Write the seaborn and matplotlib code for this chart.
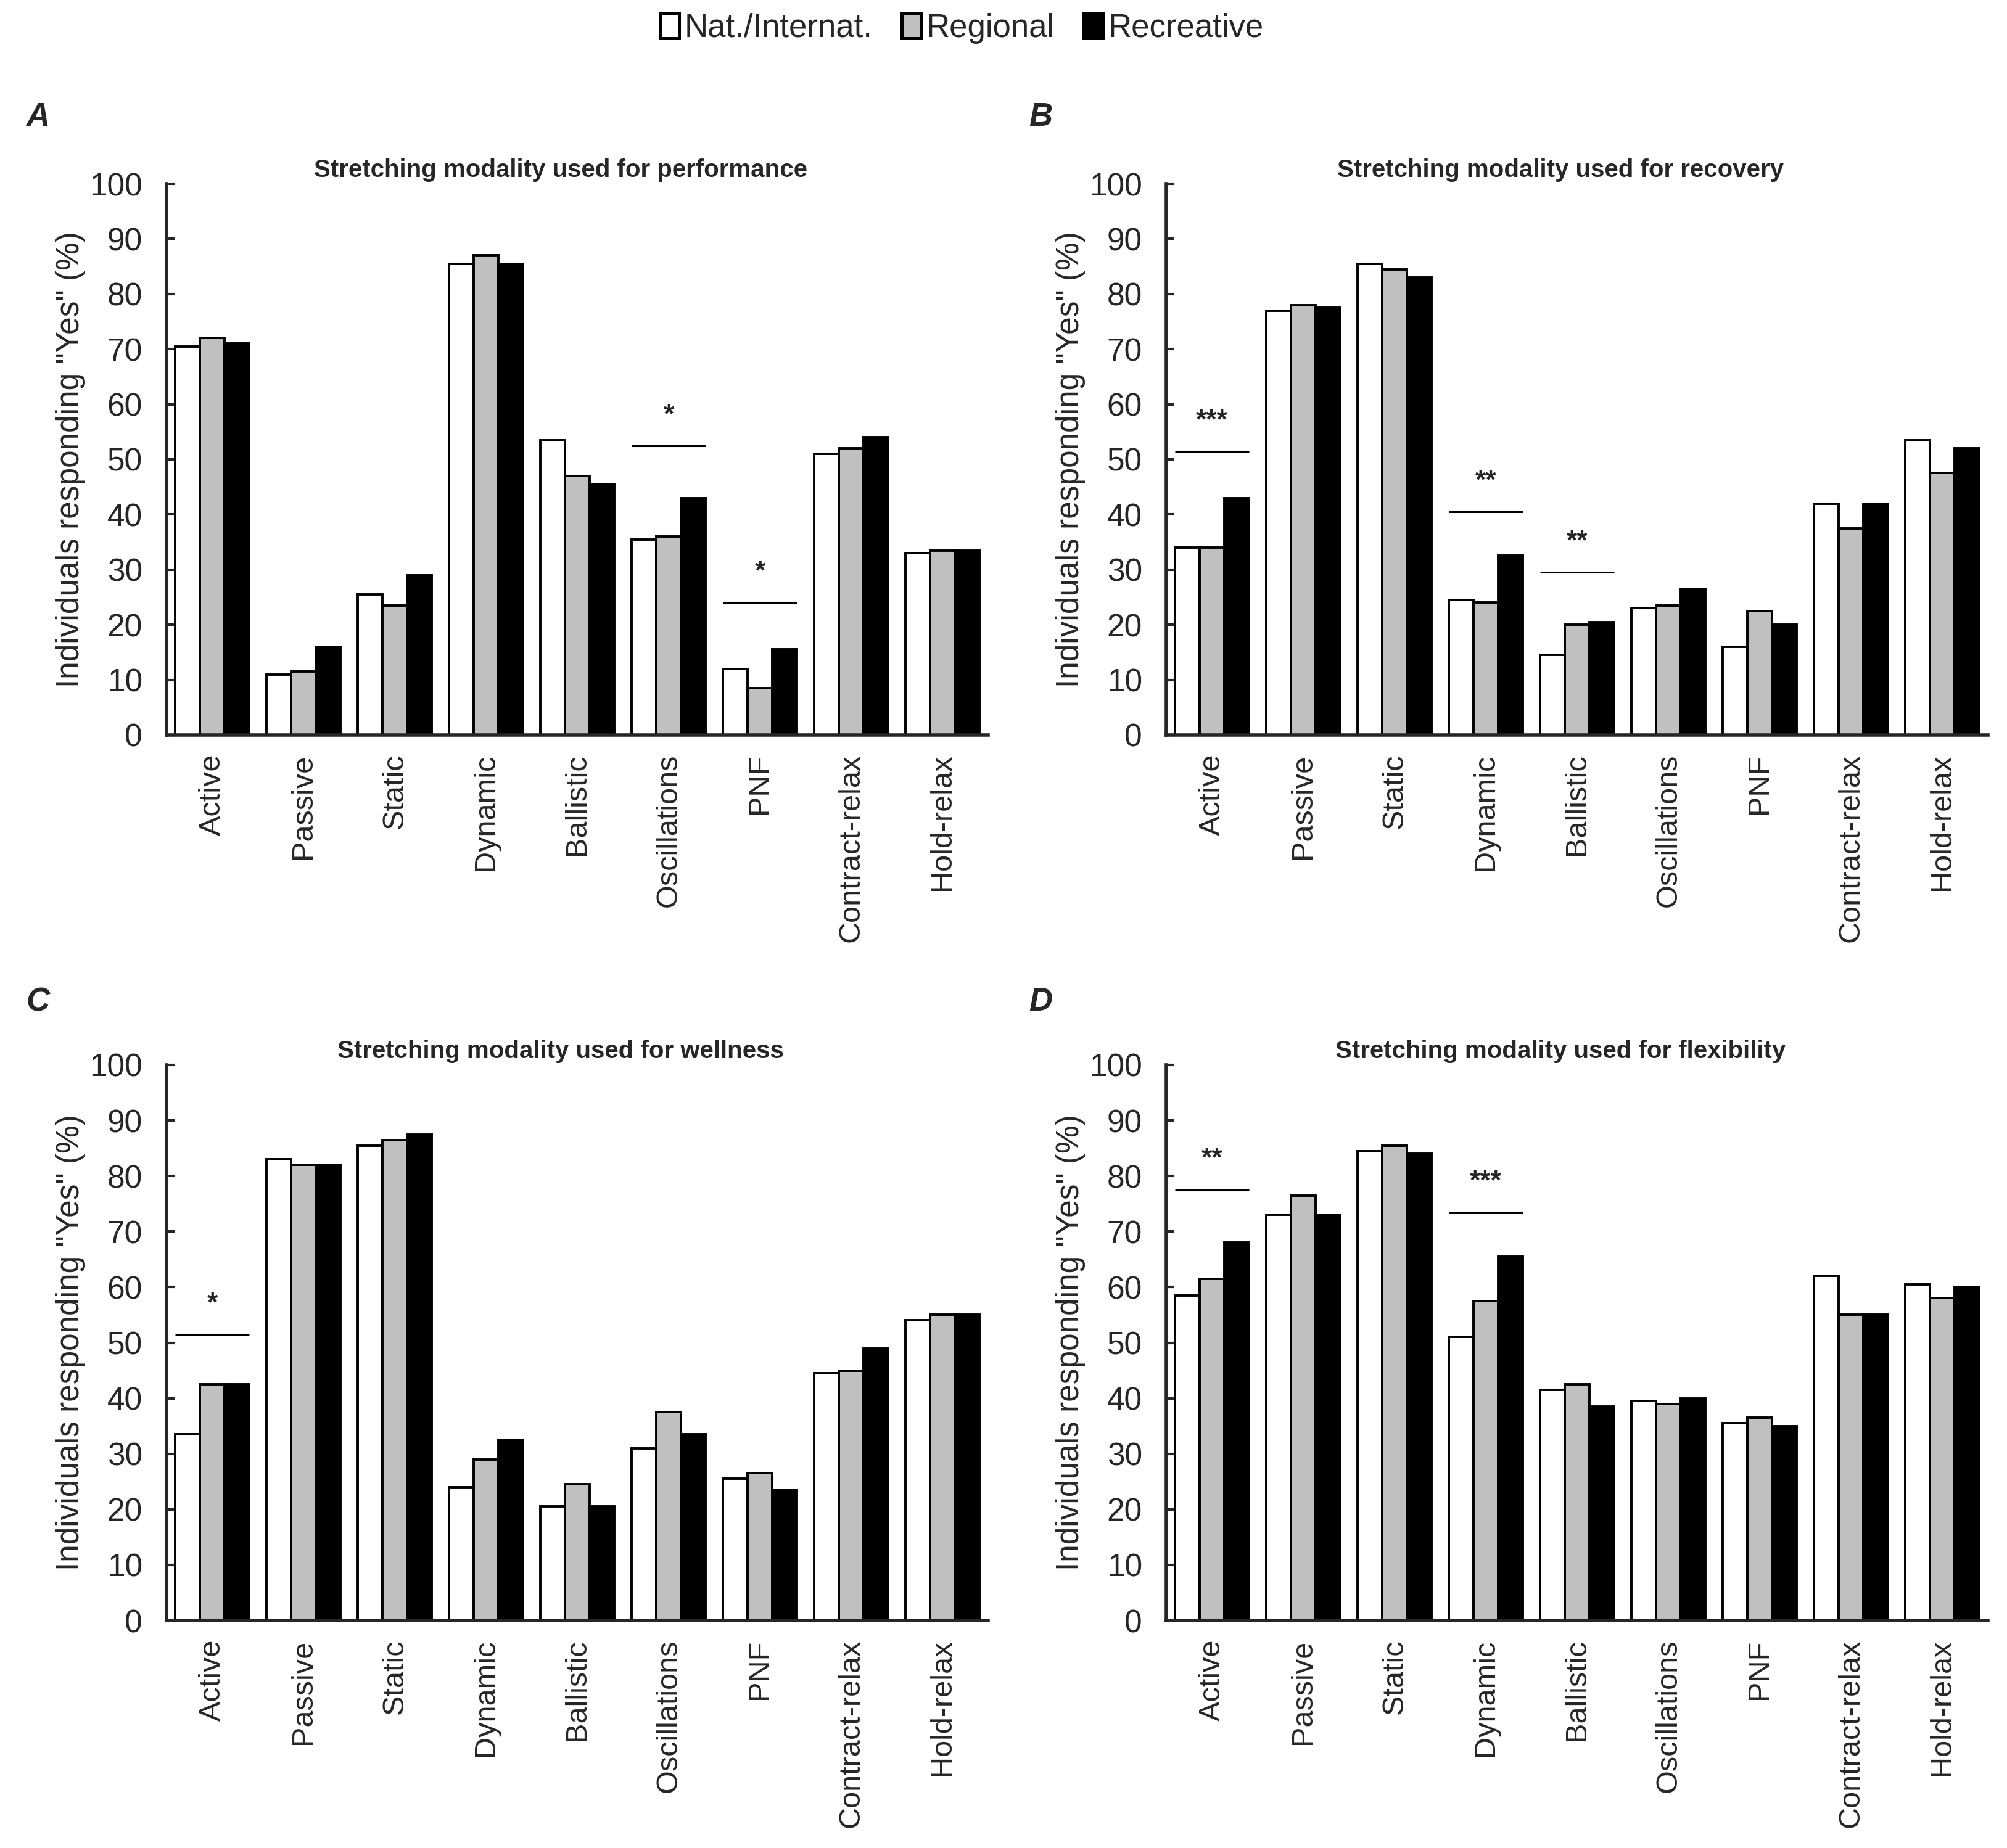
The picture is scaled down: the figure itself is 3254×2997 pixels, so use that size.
import pandas as pd
import matplotlib
matplotlib.use("Agg")
import matplotlib.pyplot as plt
from matplotlib.patches import Patch
import seaborn as sns

# -- Data -------------------------------------------------------------------
modalities = ["Active", "Passive", "Static", "Dynamic", "Ballistic",
              "Oscillations", "PNF", "Contract-relax", "Hold-relax"]
groups = ["Nat./Internat.", "Regional", "Recreative"]
group_colors = ["#ffffff", "#c0c0c0", "#000000"]

perf_nat = [70.5, 11.0, 25.5, 85.5, 53.5, 35.5, 12.0, 51.0, 33.0]
perf_reg = [72.0, 11.5, 23.5, 87.0, 47.0, 36.0, 8.5, 52.0, 33.5]
perf_rec = [71.0, 16.0, 29.0, 85.5, 45.5, 43.0, 15.5, 54.0, 33.5]

recov_nat = [34.0, 77.0, 85.5, 24.5, 14.5, 23.0, 16.0, 42.0, 53.5]
recov_reg = [34.0, 78.0, 84.5, 24.0, 20.0, 23.5, 22.5, 37.5, 47.5]
recov_rec = [43.0, 77.5, 83.0, 32.5, 20.5, 26.5, 20.0, 42.0, 52.0]

well_nat = [33.5, 83.0, 85.5, 24.0, 20.5, 31.0, 25.5, 44.5, 54.0]
well_reg = [42.5, 82.0, 86.5, 29.0, 24.5, 37.5, 26.5, 45.0, 55.0]
well_rec = [42.5, 82.0, 87.5, 32.5, 20.5, 33.5, 23.5, 49.0, 55.0]

flex_nat = [58.5, 73.0, 84.5, 51.0, 41.5, 39.5, 35.5, 62.0, 60.5]
flex_reg = [61.5, 76.5, 85.5, 57.5, 42.5, 39.0, 36.5, 55.0, 58.0]
flex_rec = [68.0, 73.0, 84.0, 65.5, 38.5, 40.0, 35.0, 55.0, 60.0]

titles = ["Stretching modality used for performance",
          "Stretching modality used for recovery",
          "Stretching modality used for wellness",
          "Stretching modality used for flexibility"]
panel_letters = ["A", "B", "C", "D"]

# significance bars: (modality, stars, bar height)
sig_perf = [("Oscillations", "*", 52.5), ("PNF", "*", 24.0)]
sig_recov = [("Active", "***", 51.5), ("Dynamic", "**", 40.5), ("Ballistic", "**", 29.5)]
sig_well = [("Active", "*", 51.5)]
sig_flex = [("Active", "**", 77.5), ("Dynamic", "***", 73.5)]

panels = [
    (perf_nat, perf_reg, perf_rec, sig_perf),
    (recov_nat, recov_reg, recov_rec, sig_recov),
    (well_nat, well_reg, well_rec, sig_well),
    (flex_nat, flex_reg, flex_rec, sig_flex),
]

# -- Style -------------------------------------------------------------------
sns.set_style("ticks")
plt.rcParams["font.family"] = ["Liberation Sans", "DejaVu Sans"]

W, H = 3255, 2997
fig = plt.figure(figsize=(W / 200, H / 200), dpi=200)

# axes boxes in pixels: left, top(=100), right, bottom(=0)
boxes = [(270, 298, 1602, 1192), (1891, 298, 3223, 1192),
         (270, 1727, 1602, 2628), (1891, 1727, 3223, 2628)]
letter_pos = [(42, 190), (1668, 190), (42, 1625), (1668, 1625)]

group_width = 0.81

for k, (nat, reg, rec, sigs) in enumerate(panels):
    l, t, r, b = boxes[k]
    ax = fig.add_axes([l / W, 1 - b / H, (r - l) / W, (b - t) / H])

    df = pd.DataFrame({
        "Modality": modalities * 3,
        "Group": [g for g in groups for _ in modalities],
        "Percent": nat + reg + rec,
    })
    sns.barplot(data=df, x="Modality", y="Percent", hue="Group",
                order=modalities, hue_order=groups, palette=group_colors,
                saturation=1, edgecolor="black", linewidth=1.4,
                width=group_width, legend=False, ax=ax)

    ax.set_xlim(-0.5, len(modalities) - 0.5)
    ax.set_ylim(0, 100)
    ax.set_yticks(range(0, 101, 10))
    ax.set_yticklabels([str(v) for v in range(0, 101, 10)], fontsize=18.5)
    ax.set_xticks(range(len(modalities)))
    ax.set_xticklabels(modalities, rotation=90, fontsize=17.5)
    ax.tick_params(axis="x", length=0, pad=11)
    ax.tick_params(axis="y", direction="in", length=4.5, width=1.5, pad=14)
    ax.set_xlabel("")
    ax.set_ylabel('Individuals responding "Yes" (%)', fontsize=18.5)
    ax.yaxis.set_label_coords(-0.098, 0.5)
    sns.despine(ax=ax)
    for side in ["left", "bottom"]:
        ax.spines[side].set_linewidth(2.0)

    ax.set_title(titles[k], fontweight="bold", fontsize=14.5,
                 x=0.48, y=1.0, pad=4)

    for name, stars, level in sigs:
        i = modalities.index(name)
        ax.plot([i - group_width / 2, i + group_width / 2], [level, level],
                color="black", linewidth=1.1, solid_capstyle="butt")
        ax.text(i, level + 4.2, stars, ha="center", va="baseline",
                fontsize=16, fontweight="bold")

    lx, ly = letter_pos[k]
    fig.text(lx / W, 1 - ly / H, panel_letters[k], fontsize=19,
             fontweight="bold", style="italic", ha="left", va="center")

handles = [Patch(facecolor=c, edgecolor="black", linewidth=1.8) for c in group_colors]
fig.legend(handles, groups, loc="center", bbox_to_anchor=(0.479, 1 - 46 / H),
           ncol=3, frameon=False, handlelength=0.6, handleheight=0.8,
           handletextpad=0.15, columnspacing=0.9,
           prop={"size": 19})

fig.savefig("out.png", dpi=200)
